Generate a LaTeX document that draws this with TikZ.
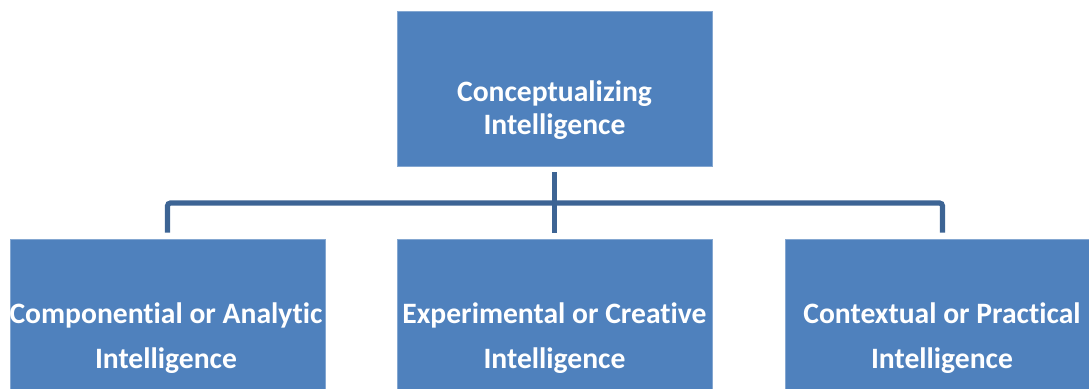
\documentclass[tikz,border=0pt]{standalone}
\usepackage{fontspec}
\setmainfont{Carlito}[Ligatures=NoCommon]
\definecolor{boxblue}{RGB}{79,129,189}
\definecolor{linkblue}{RGB}{61,100,148}
\begin{document}
\begin{tikzpicture}[x=0.5pt, y=-0.5pt,
  box/.style={fill=boxblue, draw=boxblue!70!white, line width=0.4pt, minimum width=157.5pt, inner sep=0pt},
  boxtext/.style={text=white, align=center, font=\bfseries\fontsize{14.8}{16.5}\selectfont},
  link/.style={draw=linkblue, line width=2.6pt, rounded corners=1.5pt}]
\clip (0,0) rectangle (1089,389);
% boxes
\node[box, minimum height=77.5pt] (top) at (554.5,88.5) {};
\node[box, minimum height=96pt] (left) at (167.5,335) {};
\node[box, minimum height=96pt] (mid) at (554.5,335) {};
\node[box, minimum height=96pt] (right) at (942.5,335) {};
% labels
\node[boxtext] (toptext) at (554.5,110) {Conceptualizing\\Intelligence};
\node[boxtext, font=\bfseries\fontsize{14.8}{22.5}\selectfont] (lefttext) at (166,338) {Componential or Analytic\\Intelligence};
\node[boxtext, font=\bfseries\fontsize{14.8}{22.5}\selectfont] (midtext) at (554.5,338) {Experimental or Creative\\Intelligence};
\node[boxtext, font=\bfseries\fontsize{14.8}{22.5}\selectfont] (righttext) at (942,338) {Contextual or Practical\\Intelligence};
% connectors
\coordinate (bus) at (554.5,203);
\draw[link] ([yshift=-3pt]top.south) -- ([yshift=3pt]mid.north);
\draw[link] ([yshift=3pt]left.north) |- (bus) -| ([yshift=3pt]right.north);
\end{tikzpicture}
\end{document}
